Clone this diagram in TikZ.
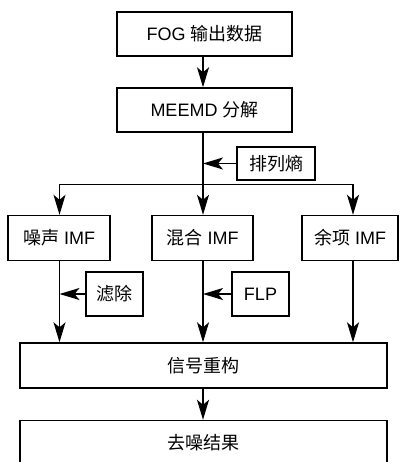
\documentclass[tikz,border=0pt]{standalone}
\usepackage{fontspec}
\setmainfont{Liberation Sans}
\newfontfamily\cjk{Noto Sans CJK SC}
\usetikzlibrary{arrows.meta}
\tikzset{
  box/.style={draw, line width=1.4pt, inner sep=0pt, font=\fontsize{18}{21}\selectfont},
  conn/.style={line width=1.4pt, -{Stealth[length=20pt, width=12pt, inset=5pt]}},
  ln/.style={line width=1.4pt}
}
\begin{document}
\begin{tikzpicture}[x=1pt, y=-1pt]
\useasboundingbox (0,0) rectangle (399,462);
\node[box, minimum width=175pt, minimum height=44pt] (fog) at (204.5,34) {FOG {\cjk 输出数据}};
\node[box, minimum width=175pt, minimum height=44pt] (meemd) at (204.5,110) {MEEMD {\cjk 分解}};
\node[box, minimum width=78pt, minimum height=33pt] (pe) at (276,163.5) {\cjk 排列熵};
\node[box, minimum width=102pt, minimum height=45pt] (noise) at (59,238) {{\cjk 噪声} IMF};
\node[box, minimum width=101pt, minimum height=45pt] (mix) at (202.5,238) {{\cjk 混合} IMF};
\node[box, minimum width=96pt, minimum height=45pt] (res) at (350,238) {{\cjk 余项} IMF};
\node[box, minimum width=57pt, minimum height=44pt] (filt) at (114.5,294) {\cjk 滤除};
\node[box, minimum width=57pt, minimum height=44pt] (flp) at (260.5,294) {FLP};
\node[box, minimum width=367pt, minimum height=45pt] (rec) at (203.5,365.5) {\cjk 信号重构};
\node[box, minimum width=367pt, minimum height=45pt] (out) at (203.5,443) {\cjk 去噪结果};
\coordinate (t0) at (203,184.5);
\coordinate (tl) at (59.5,184.5);
\coordinate (tr) at (353,184.5);
\draw[conn] (fog.south -| t0) -- (meemd.north -| t0);
\draw[ln] (meemd.south -| t0) -- (t0);
\draw[conn] (pe.west) -- (pe.west -| t0);
\draw[ln] (tl) -- (tr);
\draw[conn] (tl) -- (noise.north -| tl);
\draw[conn] (t0) -- (mix.north -| t0);
\draw[conn] (tr) -- (res.north -| tr);
\draw[conn] (noise.south -| tl) -- (rec.north -| tl);
\draw[conn] (mix.south -| t0) -- (rec.north -| t0);
\draw[conn] (res.south -| tr) -- (rec.north -| tr);
\draw[conn] (filt.west) -- (filt.west -| tl);
\draw[conn] (flp.west) -- (flp.west -| t0);
\draw[conn] (rec.south -| t0) -- (out.north -| t0);
\end{tikzpicture}
\end{document}
